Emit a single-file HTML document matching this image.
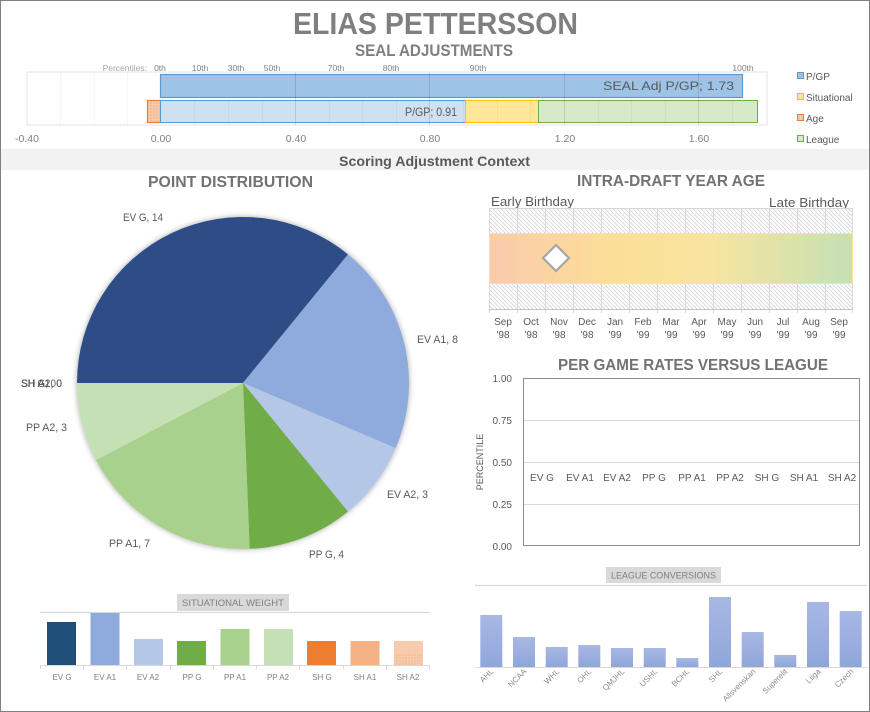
<!DOCTYPE html>
<html><head><meta charset="utf-8"><style>
html,body{margin:0;padding:0;background:#fff;}
svg{display:block;}
text{font-family:"Liberation Sans",sans-serif;}
</style></head><body>
<svg width="870" height="712" viewBox="0 0 870 712" xmlns="http://www.w3.org/2000/svg">
<defs>
<pattern id="hatch" width="4" height="4" patternUnits="userSpaceOnUse">
<rect width="4" height="4" fill="#fff"/>
<path d="M-1,-1 L5,5 M-1,3 L1,5 M3,-1 L5,1" stroke="#d4d4d4" stroke-width="0.8"/>
</pattern>
<pattern id="dots" width="3" height="3" patternUnits="userSpaceOnUse">
<rect width="3" height="3" fill="#f8cbad"/>
<circle cx="1" cy="1" r="0.6" fill="#e7a070"/>
</pattern>
<pattern id="dots2" width="3" height="3" patternUnits="userSpaceOnUse">
<rect width="3" height="3" fill="#f8cbad"/>
<circle cx="1" cy="1" r="0.7" fill="#efb07e"/>
</pattern>
<linearGradient id="age" x1="0" y1="0" x2="1" y2="0">
<stop offset="0" stop-color="#f8cbad"/>
<stop offset="0.35" stop-color="#fcdf96"/>
<stop offset="0.62" stop-color="#f6e4a0"/>
<stop offset="1" stop-color="#c5e0b4"/>
</linearGradient>
<linearGradient id="lg" x1="0" y1="0" x2="0" y2="1">
<stop offset="0" stop-color="#a8b8e4"/>
<stop offset="1" stop-color="#8fa6db"/>
</linearGradient>
<filter id="sh" x="-10%" y="-10%" width="120%" height="120%">
<feDropShadow dx="0" dy="0" stdDeviation="3" flood-color="#000" flood-opacity="0.35"/>
</filter>
</defs>

<rect x="0.5" y="0.5" width="869" height="711" fill="#fff" stroke="#808080" stroke-width="1"/>

<!-- Titles -->
<text x="293" y="34" font-size="31" font-weight="bold" fill="#7f7f7f" textLength="285" lengthAdjust="spacingAndGlyphs">ELIAS PETTERSSON</text>
<text x="355" y="56" font-size="17" font-weight="bold" fill="#7f7f7f" textLength="158" lengthAdjust="spacingAndGlyphs">SEAL ADJUSTMENTS</text>

<!-- Top bar chart -->
<rect x="27" y="72" width="740" height="53" fill="#fff" stroke="#e3e3e3" stroke-width="1"/>
<rect x="160.5" y="74.5" width="582" height="23" fill="#9dc3e6" stroke="#5b9bd5" stroke-width="1.2"/>
<rect x="147.5" y="100.5" width="13" height="22" fill="url(#dots)" stroke="#ed7d31" stroke-width="1.2"/>
<rect x="160.5" y="100.5" width="305" height="22" fill="#cfe0f1" stroke="#5b9bd5" stroke-width="1"/>
<rect x="465.5" y="100.5" width="73" height="22" fill="#ffe699" stroke="#ffc000" stroke-width="1"/>
<rect x="538.5" y="100.5" width="219" height="22" fill="#d7e9c8" stroke="#70ad47" stroke-width="1"/>
<g stroke-width="1">
<line x1="60.5" y1="72" x2="60.5" y2="125" stroke="#000" stroke-opacity="0.04"/>
<line x1="94.5" y1="72" x2="94.5" y2="125" stroke="#000" stroke-opacity="0.04"/>
<line x1="127.5" y1="72" x2="127.5" y2="125" stroke="#000" stroke-opacity="0.04"/>
<line x1="194.5" y1="99" x2="194.5" y2="125" stroke="#000" stroke-opacity="0.04"/>
<line x1="228.5" y1="99" x2="228.5" y2="125" stroke="#000" stroke-opacity="0.04"/>
<line x1="262.5" y1="99" x2="262.5" y2="125" stroke="#000" stroke-opacity="0.04"/>
<line x1="295.5" y1="72" x2="295.5" y2="125" stroke="#000" stroke-opacity="0.12"/>
<line x1="329.5" y1="99" x2="329.5" y2="125" stroke="#000" stroke-opacity="0.04"/>
<line x1="362.5" y1="99" x2="362.5" y2="125" stroke="#000" stroke-opacity="0.04"/>
<line x1="396.5" y1="99" x2="396.5" y2="125" stroke="#000" stroke-opacity="0.04"/>
<line x1="429.5" y1="72" x2="429.5" y2="125" stroke="#000" stroke-opacity="0.12"/>
<line x1="463.5" y1="99" x2="463.5" y2="125" stroke="#000" stroke-opacity="0.04"/>
<line x1="497.5" y1="99" x2="497.5" y2="125" stroke="#000" stroke-opacity="0.04"/>
<line x1="530.5" y1="99" x2="530.5" y2="125" stroke="#000" stroke-opacity="0.04"/>
<line x1="564.5" y1="72" x2="564.5" y2="125" stroke="#000" stroke-opacity="0.12"/>
<line x1="598.5" y1="99" x2="598.5" y2="125" stroke="#000" stroke-opacity="0.04"/>
<line x1="631.5" y1="99" x2="631.5" y2="125" stroke="#000" stroke-opacity="0.04"/>
<line x1="665.5" y1="99" x2="665.5" y2="125" stroke="#000" stroke-opacity="0.04"/>
<line x1="698.5" y1="72" x2="698.5" y2="125" stroke="#000" stroke-opacity="0.12"/>
<line x1="732.5" y1="99" x2="732.5" y2="125" stroke="#000" stroke-opacity="0.04"/>
</g>
<text x="734" y="90" font-size="12" fill="#595959" text-anchor="end" textLength="131" lengthAdjust="spacingAndGlyphs">SEAL Adj P/GP; 1.73</text>
<text x="457" y="116" font-size="12" fill="#595959" text-anchor="end" textLength="52" lengthAdjust="spacingAndGlyphs">P/GP; 0.91</text>

<g font-size="8.5" fill="#7f7f7f" text-anchor="middle">
<text x="147" y="71" text-anchor="end" fill="#a6a6a6">Percentiles:</text>
<text x="160" y="71">0th</text>
<text x="200" y="71">10th</text>
<text x="236" y="71">30th</text>
<text x="272" y="71">50th</text>
<text x="336" y="71">70th</text>
<text x="391" y="71">80th</text>
<text x="478" y="71">90th</text>
<text x="743" y="71">100th</text>
</g>
<g font-size="10.5" fill="#7f7f7f" text-anchor="middle">
<text x="27" y="142">-0.40</text>
<text x="161" y="142">0.00</text>
<text x="296" y="142">0.40</text>
<text x="430" y="142">0.80</text>
<text x="565" y="142">1.20</text>
<text x="699" y="142">1.60</text>
</g>
<!-- Legend -->
<rect x="797.5" y="72.5" width="6" height="6" fill="#9dc3e6" stroke="#5b9bd5"/>
<rect x="797.5" y="93.5" width="6" height="6" fill="#ffe699" stroke="#ffc000"/>
<rect x="797.5" y="114.5" width="6" height="6" fill="url(#dots2)" stroke="#ed7d31"/>
<rect x="797.5" y="135.5" width="6" height="6" fill="#d7e9c8" stroke="#70ad47"/>
<g font-size="10" fill="#595959">
<text x="806" y="80">P/GP</text>
<text x="806" y="101">Situational</text>
<text x="806" y="122">Age</text>
<text x="806" y="143">League</text>
</g>

<!-- Band -->
<rect x="1" y="149" width="868" height="21" fill="#f2f2f2"/>
<text x="339" y="166" font-size="13.5" font-weight="bold" fill="#595959" textLength="191" lengthAdjust="spacingAndGlyphs">Scoring Adjustment Context</text>

<!-- Pie -->
<text x="148" y="187" font-size="16" font-weight="bold" fill="#767171" textLength="165" lengthAdjust="spacingAndGlyphs">POINT DISTRIBUTION</text>
<g filter="url(#sh)">
<path d="M243,383 L77,383 A166,166 0 0 1 348.0,254.4 Z" fill="#2e4d87"/>
<path d="M243,383 L348.0,254.4 A166,166 0 0 1 395.7,448.1 Z" fill="#8faadc"/>
<path d="M243,383 L395.7,448.1 A166,166 0 0 1 348.0,511.6 Z" fill="#b4c7e7"/>
<path d="M243,383 L348.0,511.6 A166,166 0 0 1 249.7,548.9 Z" fill="#70ad47"/>
<path d="M243,383 L249.7,548.9 A166,166 0 0 1 96.0,460.1 Z" fill="#a9d18e"/>
<path d="M243,383 L96.0,460.1 A166,166 0 0 1 77,383 Z" fill="#c5e0b4"/>
</g>
<g font-size="11" fill="#595959">
<text x="123" y="221" textLength="40" lengthAdjust="spacingAndGlyphs">EV G, 14</text>
<text x="417" y="343" textLength="41" lengthAdjust="spacingAndGlyphs">EV A1, 8</text>
<text x="387" y="498" textLength="41" lengthAdjust="spacingAndGlyphs">EV A2, 3</text>
<text x="309" y="558" textLength="35" lengthAdjust="spacingAndGlyphs">PP G, 4</text>
<text x="109" y="547" textLength="41" lengthAdjust="spacingAndGlyphs">PP A1, 7</text>
<text x="26" y="431" textLength="41" lengthAdjust="spacingAndGlyphs">PP A2, 3</text>
<text x="21" y="387" textLength="35" lengthAdjust="spacingAndGlyphs">SH G, 0</text>
<text x="21" y="387" textLength="41" lengthAdjust="spacingAndGlyphs">SH A1, 0</text>
<text x="21" y="387" textLength="41" lengthAdjust="spacingAndGlyphs">SH A2, 0</text>
</g>

<!-- Intra-draft year age -->
<text x="577" y="186" font-size="16" font-weight="bold" fill="#767171" textLength="188" lengthAdjust="spacingAndGlyphs">INTRA-DRAFT YEAR AGE</text>
<text x="491" y="206" font-size="13" fill="#595959" textLength="83" lengthAdjust="spacingAndGlyphs">Early Birthday</text>
<text x="769" y="207" font-size="13" fill="#595959" textLength="80" lengthAdjust="spacingAndGlyphs">Late Birthday</text>
<rect x="489" y="208" width="364" height="101" fill="url(#hatch)"/>
<g stroke="#d9d9d9" stroke-width="1">
<line x1="489" y1="208.5" x2="853" y2="208.5"/>
<line x1="489.5" y1="208" x2="489.5" y2="313"/>
<line x1="517.5" y1="208" x2="517.5" y2="313"/>
<line x1="545.5" y1="208" x2="545.5" y2="313"/>
<line x1="573.5" y1="208" x2="573.5" y2="313"/>
<line x1="601.5" y1="208" x2="601.5" y2="313"/>
<line x1="629.5" y1="208" x2="629.5" y2="313"/>
<line x1="657.5" y1="208" x2="657.5" y2="313"/>
<line x1="685.5" y1="208" x2="685.5" y2="313"/>
<line x1="713.5" y1="208" x2="713.5" y2="313"/>
<line x1="741.5" y1="208" x2="741.5" y2="313"/>
<line x1="769.5" y1="208" x2="769.5" y2="313"/>
<line x1="797.5" y1="208" x2="797.5" y2="313"/>
<line x1="825.5" y1="208" x2="825.5" y2="313"/>
<line x1="852.5" y1="208" x2="852.5" y2="313"/>
<line x1="489" y1="309.5" x2="853" y2="309.5" stroke="#c8c8c8"/>
</g>
<rect x="489.5" y="233.5" width="363" height="50" fill="url(#age)" stroke="#fbe2a0" stroke-width="1"/>
<path d="M556,245 L569,258 L556,271 L543,258 Z" fill="#fff" stroke="#a6a6a6" stroke-width="2.2"/>
<g font-size="10" fill="#595959" text-anchor="middle">
<text x="503" y="325">Sep</text><text x="503" y="338">'98</text>
<text x="531" y="325">Oct</text><text x="531" y="338">'98</text>
<text x="559" y="325">Nov</text><text x="559" y="338">'98</text>
<text x="587" y="325">Dec</text><text x="587" y="338">'98</text>
<text x="615" y="325">Jan</text><text x="615" y="338">'99</text>
<text x="643" y="325">Feb</text><text x="643" y="338">'99</text>
<text x="671" y="325">Mar</text><text x="671" y="338">'99</text>
<text x="699" y="325">Apr</text><text x="699" y="338">'99</text>
<text x="727" y="325">May</text><text x="727" y="338">'99</text>
<text x="755" y="325">Jun</text><text x="755" y="338">'99</text>
<text x="783" y="325">Jul</text><text x="783" y="338">'99</text>
<text x="811" y="325">Aug</text><text x="811" y="338">'99</text>
<text x="839" y="325">Sep</text><text x="839" y="338">'99</text>
</g>

<!-- Per game rates -->
<text x="558" y="370" font-size="16" font-weight="bold" fill="#767171" textLength="270" lengthAdjust="spacingAndGlyphs">PER GAME RATES VERSUS LEAGUE</text>
<g stroke="#d9d9d9" stroke-width="1">
<line x1="523" y1="420.5" x2="860" y2="420.5"/>
<line x1="523" y1="462.5" x2="860" y2="462.5"/>
<line x1="523" y1="504.5" x2="860" y2="504.5"/>
</g>
<rect x="523.5" y="378.5" width="336" height="167" fill="none" stroke="#8c8c8c" stroke-width="1"/>
<g font-size="10" fill="#595959" text-anchor="end">
<text x="512" y="382">1.00</text>
<text x="512" y="424">0.75</text>
<text x="512" y="466">0.50</text>
<text x="512" y="508">0.25</text>
<text x="512" y="550">0.00</text>
</g>
<text x="0" y="0" font-size="9" fill="#595959" text-anchor="middle" transform="translate(483,462) rotate(-90)">PERCENTILE</text>
<g font-size="10" fill="#595959" text-anchor="middle">
<text x="542" y="481">EV G</text>
<text x="580" y="481">EV A1</text>
<text x="617" y="481">EV A2</text>
<text x="654" y="481">PP G</text>
<text x="692" y="481">PP A1</text>
<text x="730" y="481">PP A2</text>
<text x="767" y="481">SH G</text>
<text x="804" y="481">SH A1</text>
<text x="842" y="481">SH A2</text>
</g>

<!-- Situational weight -->
<line x1="40" y1="612.5" x2="430" y2="612.5" stroke="#d9d9d9" stroke-width="1.2"/>
<rect x="177" y="594" width="112" height="17" fill="#d9d9d9"/>
<text x="233" y="606" font-size="9" fill="#7f7f7f" text-anchor="middle" textLength="102" lengthAdjust="spacingAndGlyphs">SITUATIONAL  WEIGHT</text>
<rect x="47" y="622" width="29" height="43" fill="#1f4e79"/>
<rect x="90.5" y="613" width="29" height="52" fill="#8faadc"/>
<rect x="134" y="639" width="29" height="26" fill="#b4c7e7"/>
<rect x="177" y="641" width="29" height="24" fill="#70ad47"/>
<rect x="220.5" y="629" width="29" height="36" fill="#a9d18e"/>
<rect x="264" y="629" width="29" height="36" fill="#c5e0b4"/>
<rect x="307" y="641" width="29" height="24" fill="#ed7d31"/>
<rect x="350.5" y="641" width="29" height="24" fill="#f4b183"/>
<rect x="394" y="641" width="29" height="24" fill="#f8cbad"/>
<rect x="394" y="654" width="29" height="11" fill="url(#dots2)"/>
<g stroke="#d9d9d9" stroke-width="1">
<line x1="40" y1="665.5" x2="430" y2="665.5"/>
<line x1="40.5" y1="665" x2="40.5" y2="669"/>
<line x1="83.5" y1="665" x2="83.5" y2="669"/>
<line x1="126.5" y1="665" x2="126.5" y2="669"/>
<line x1="170.5" y1="665" x2="170.5" y2="669"/>
<line x1="213.5" y1="665" x2="213.5" y2="669"/>
<line x1="256.5" y1="665" x2="256.5" y2="669"/>
<line x1="299.5" y1="665" x2="299.5" y2="669"/>
<line x1="343.5" y1="665" x2="343.5" y2="669"/>
<line x1="386.5" y1="665" x2="386.5" y2="669"/>
<line x1="429.5" y1="665" x2="429.5" y2="669"/>
</g>
<g font-size="8" fill="#7f7f7f" text-anchor="middle">
<text x="62" y="680">EV G</text>
<text x="105" y="680">EV A1</text>
<text x="148" y="680">EV A2</text>
<text x="192" y="680">PP G</text>
<text x="235" y="680">PP A1</text>
<text x="278" y="680">PP A2</text>
<text x="322" y="680">SH G</text>
<text x="365" y="680">SH A1</text>
<text x="408" y="680">SH A2</text>
</g>

<!-- League conversions -->
<line x1="475" y1="585.5" x2="867" y2="585.5" stroke="#d9d9d9" stroke-width="1.2"/>
<rect x="606" y="567" width="115" height="16" fill="#d9d9d9"/>
<text x="663.5" y="578.5" font-size="9" fill="#7f7f7f" text-anchor="middle" textLength="105" lengthAdjust="spacingAndGlyphs">LEAGUE CONVERSIONS</text>
<g fill="url(#lg)">
<rect x="480.3" y="615" width="22" height="52"/>
<rect x="513" y="637" width="22" height="30"/>
<rect x="545.7" y="647" width="22" height="20"/>
<rect x="578.3" y="645" width="22" height="22"/>
<rect x="611" y="648" width="22" height="19"/>
<rect x="643.7" y="648" width="22" height="19"/>
<rect x="676.3" y="658" width="22" height="9"/>
<rect x="709" y="597" width="22" height="70"/>
<rect x="741.7" y="632" width="22" height="35"/>
<rect x="774.3" y="655" width="22" height="12"/>
<rect x="807" y="602" width="22" height="65"/>
<rect x="839.7" y="611" width="22" height="56"/>
</g>
<line x1="475" y1="667.5" x2="867" y2="667.5" stroke="#d9d9d9" stroke-width="1"/>
<g font-size="8" fill="#8c8c8c" text-anchor="end">
<text transform="translate(494,672) rotate(-45)">AHL</text>
<text transform="translate(527,672) rotate(-45)">NCAA</text>
<text transform="translate(560,672) rotate(-45)">WHL</text>
<text transform="translate(592,672) rotate(-45)">OHL</text>
<text transform="translate(625,672) rotate(-45)">QMJHL</text>
<text transform="translate(658,672) rotate(-45)">USHL</text>
<text transform="translate(690,672) rotate(-45)">BCHL</text>
<text transform="translate(723,672) rotate(-45)">SHL</text>
<text transform="translate(756,672) rotate(-45)">Allsvenskan</text>
<text transform="translate(788,672) rotate(-45)">Superelit</text>
<text transform="translate(821,672) rotate(-45)">Liiga</text>
<text transform="translate(854,672) rotate(-45)">Czech</text>
</g>
</svg>
</body></html>
